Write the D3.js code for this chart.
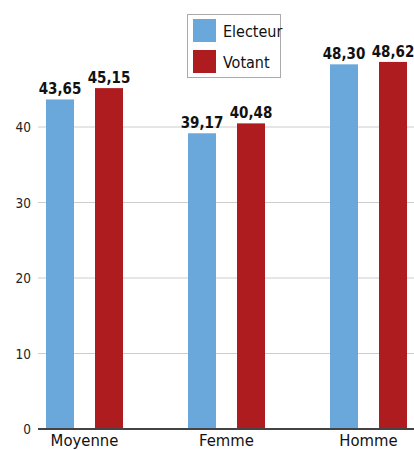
<!DOCTYPE html>
<html>
<head>
<meta charset="utf-8">
<script src="https://cdn.jsdelivr.net/npm/d3@7"></script>
<style>
    body { margin: 0; background: #fff; }
    svg { display: block; }
    text { font-family: "Liberation Sans Narrow", "DejaVu Sans Condensed", "Roboto Condensed", sans-serif; }
</style>
</head>
<body>
<div id="chart"></div>
<script>
var categories = ["Moyenne", "Femme", "Homme"]
var seriesNames = ["Electeur", "Votant"]
var electeurValues = [43.65, 39.17, 48.30]
var votantValues = [45.15, 40.48, 48.62]
var tickValues = [0, 10, 20, 30, 40]

var colors = {"Electeur": "#6aa8dc", "Votant": "#ae1c20"}

var width = 414
var height = 450
var margins = ({
    top: 0,
    right: 0,
    bottom: 21,
    left: 38
})

var data = categories.map(function(c, i) {
    return {"cat": c, "Electeur": electeurValues[i], "Votant": votantValues[i]}
})

var svg = d3.select("#chart")
    .append("svg")
    .attr("width", width)
    .attr("height", height)

var x0 = d3.scaleBand()
    .domain(categories)
    .range([13.5, 439.5])
    .padding(0)

var x1 = d3.scaleBand()
    .domain(seriesNames)
    .range([0, 77])
    .paddingInner(21 / 49)

var y = d3.scaleLinear()
    .domain([0, 40])
    .range([429, 127])

// grid
svg.append("g")
    .selectAll("line")
    .data(tickValues.filter(d => d > 0))
    .enter()
    .append("line")
    .attr("x1", margins.left)
    .attr("x2", width)
    .attr("y1", d => y(d))
    .attr("y2", d => y(d))
    .attr("stroke", "#cccccc")
    .attr("stroke-width", 1)

// y tick labels
svg.append("g")
    .selectAll("text")
    .data(tickValues)
    .enter()
    .append("text")
    .attr("x", 31)
    .attr("y", d => y(d) + 5)
    .attr("text-anchor", "end")
    .attr("font-size", 13.5)
    .attr("fill", "#222")
    .text(d => d)

// bars
var groups = svg.append("g")
    .selectAll("g")
    .data(data)
    .enter()
    .append("g")
    .attr("transform", d => `translate(${x0(d.cat) + (x0.bandwidth() - 77) / 2},0)`)

groups.selectAll("rect")
    .data(d => seriesNames.map(k => ({"key": k, "value": d[k]})))
    .enter()
    .append("rect")
    .attr("x", d => x1(d.key))
    .attr("y", d => y(d.value))
    .attr("width", x1.bandwidth())
    .attr("height", d => y(0) - y(d.value))
    .attr("fill", d => colors[d.key])

groups.selectAll(".value-label")
    .data(d => seriesNames.map(k => ({"key": k, "value": d[k]})))
    .enter()
    .append("text")
    .attr("class", "value-label")
    .attr("x", d => x1(d.key) + x1.bandwidth() / 2)
    .attr("y", d => y(d.value) - 5)
    .attr("text-anchor", "middle")
    .attr("font-size", 15)
    .attr("font-weight", "bold")
    .attr("fill", "#111")
    .text(d => d3.format(".2f")(d.value).replace(".", ","))

// x axis line
svg.append("line")
    .attr("x1", margins.left)
    .attr("x2", width)
    .attr("y1", y(0))
    .attr("y2", y(0))
    .attr("stroke", "#444")
    .attr("stroke-width", 2)

// category labels
svg.append("g")
    .selectAll("text")
    .data(categories)
    .enter()
    .append("text")
    .attr("x", d => x0(d) + x0.bandwidth() / 2)
    .attr("y", 446)
    .attr("text-anchor", "middle")
    .attr("font-size", 16.5)
    .attr("fill", "#111")
    .text(d => d)

// legend
var legend = svg.append("g").attr("transform", "translate(187,14)")
legend.append("rect")
    .attr("x", 0.5)
    .attr("y", 0.5)
    .attr("width", 93)
    .attr("height", 63)
    .attr("fill", "#fff")
    .attr("stroke", "#aaa")
    .attr("stroke-width", 1)

seriesNames.forEach(function(k, i) {
    legend.append("rect")
        .attr("x", 6)
        .attr("y", 5 + i * 31)
        .attr("width", 23)
        .attr("height", 23)
        .attr("fill", colors[k])
    legend.append("text")
        .attr("x", 36)
        .attr("y", 23 + i * 31)
        .attr("font-size", 16)
        .attr("fill", "#111")
        .text(k)
})
</script>
</body>
</html>
